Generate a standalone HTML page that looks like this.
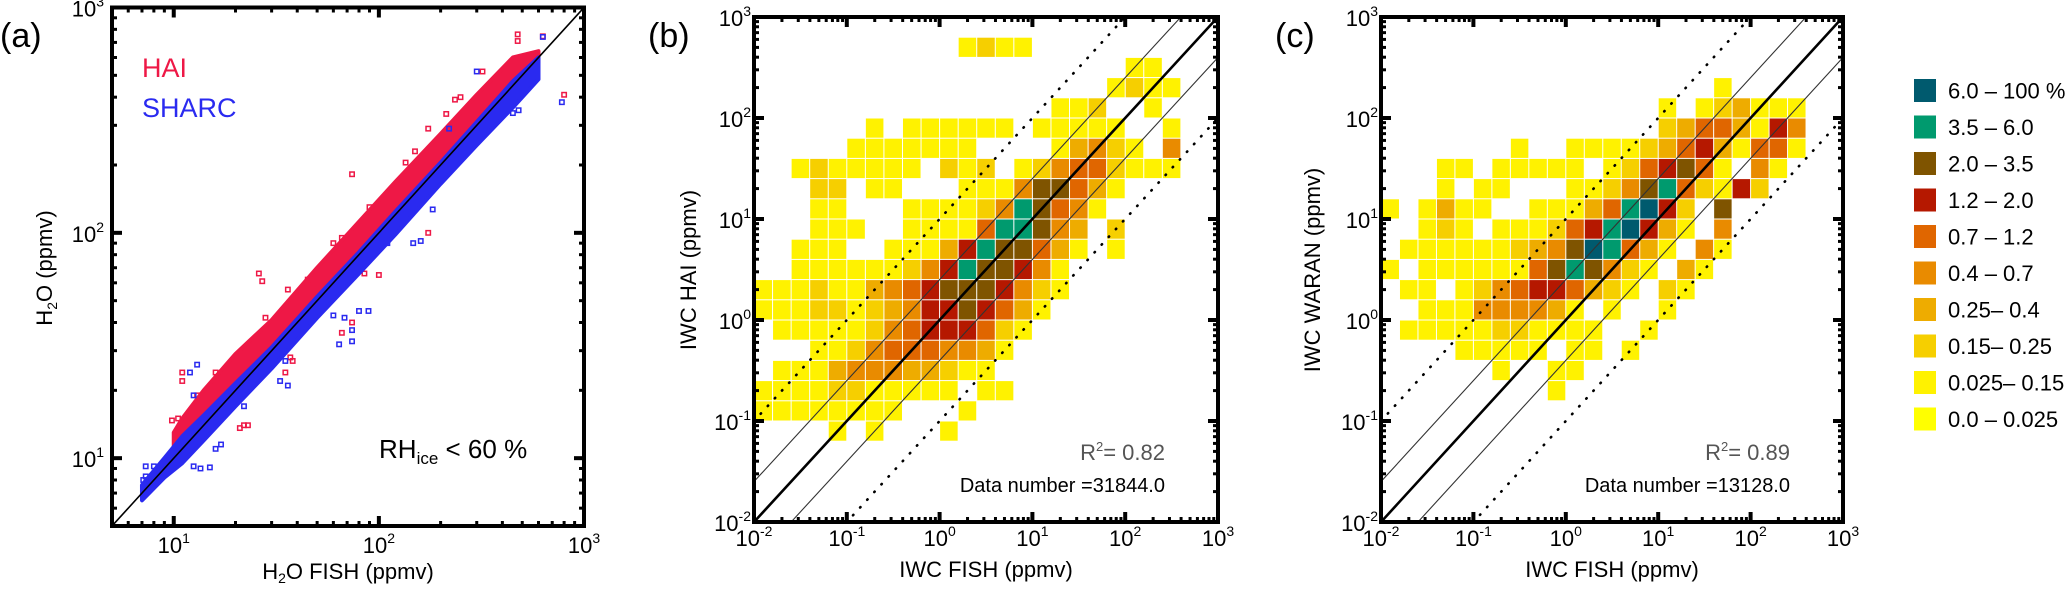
<!DOCTYPE html>
<html><head><meta charset="utf-8"><style>
html,body{margin:0;padding:0;background:#fff;overflow:hidden;width:2067px;height:590px;}
svg{display:block;font-family:"Liberation Sans",Arial,sans-serif;}
</style></head><body>
<svg id="fig" width="2067" height="590" viewBox="0 0 2067 590" xmlns="http://www.w3.org/2000/svg">
<defs>
<clipPath id="clipA"><rect x="112" y="7.5" width="472" height="518.5"/></clipPath>
<clipPath id="clipB"><rect x="754" y="17" width="464" height="505"/></clipPath>
<clipPath id="clipC"><rect x="1381" y="17" width="462" height="505"/></clipPath>
</defs>
<g id="layer"></g>
</svg>
<script>
// ---------- data ----------
const haiBandX  = [10, 11, 14, 20, 30, 50, 80, 120, 200, 300, 450, 600];
const haiBandHi = [13, 15, 20, 29, 41, 70, 112, 168, 275, 410, 600, 640];
const haiBandLo = [9.8, 10.5, 13, 19, 28, 47, 76, 114, 190, 285, 430, 570];
const sharcBandX  = [7, 9, 11, 14, 20, 30, 50, 80, 120, 200, 300, 450, 600];
const sharcBandHi = [7.6, 10, 12.5, 15.5, 21.5, 31, 52, 82, 124, 205, 310, 470, 600];
const sharcBandLo = [6.5, 8.2, 9.5, 12, 17, 25, 42, 66, 98, 165, 245, 360, 480];
const haiPtsX = [74, 26, 27, 36, 11, 11, 9.8, 10.5, 21, 23, 135, 213, 174, 235, 800, 630, 475, 475, 174, 100, 66, 85, 74, 66, 37, 38, 35, 18, 22, 150, 250, 320, 60, 45, 90, 16, 13, 28];
const haiPtsY = [182, 66, 61, 56, 24, 22, 14.7, 15, 13.6, 14, 205, 337, 290, 390, 410, 745, 760, 710, 100, 65, 95, 66, 40, 36, 28, 27, 24, 21, 14, 230, 400, 520, 90, 62, 130, 24, 19, 42];
const sharcPtsX = [183, 147, 160, 110, 89, 80, 60, 68, 74, 64, 74, 33, 36, 35, 13, 12, 12.5, 22, 15, 13.5, 12.5, 16, 17, 7.3, 8, 7.1, 7.3, 780, 630, 450, 480, 300, 220];
const sharcPtsY = [127, 90, 92, 90, 45, 45, 43, 42, 33, 32, 37, 22, 21, 27, 26, 24, 19, 17, 9.1, 9, 9.2, 11, 11.5, 9.2, 9.2, 8, 8.3, 380, 740, 340, 350, 520, 290];

const bRows = [
"0000000000000000000000000","0000000000023220000000000","0000000000000000000022000",
"0000000000000000000232200","0000000000000000223002000","0000002022222202222200200",
"0000022222220000245320500","0023222220323023566322200","0003302200022258864200000",
"0002200022223598652000000","0002220022226998540300000","0022200222479886420200000",
"0022222235798875200000000","2223224567888753200000000","2223323457787642000000000",
"0222223567776320000000000","0002235666554200000000000","0222455544322000000000000",
"2222332222202200000000000","2222222200020000000000000","0000202000200000000000000",
"0000000000000000000000000","0000000000000000000000000","0000000000000000000000000",
"0000000000000000000000000"];
const cRows = [
"0000000000000000000000000","0000000000000000000000000","0000000000000000000000000",
"0000000000000000002000000","0000000000000002023422200","0000000000000003466427500",
"0000000200222234674266200","0002202222202367862052000","0002022000223589632730000",
"20242200222469a7308000000","0023202223679a74205000000","02222223458a9642052000000",
"2022222268985320420000000","0220235677643203200000000","0022255554202002000000000",
"0222223322220020000000000","0000222220220200000000000","0000002002200000000000000",
"0000000002000000000000000","0000000000000000000000000","0000000000000000000000000",
"0000000000000000000000000","0000000000000000000000000","0000000000000000000000000",
"0000000000000000000000000"];
const levelColors = ["none","#ffff00","#fff200","#f6cf00","#eeac00","#e98b00","#e06600","#b51800","#7f5400","#009a6e","#005a6e"];
const legendLabels = ["0.0 \u2013 0.025","0.025\u2013 0.15","0.15\u2013 0.25","0.25\u2013 0.4","0.4 \u2013 0.7","0.7 \u2013 1.2","1.2 \u2013 2.0","2.0 \u2013 3.5","3.5 \u2013 6.0","6.0 \u2013 100 %"];
const bR2 = "0.82", bN = "31844.0", cR2 = "0.89", cN = "13128.0";

// ---------- helpers ----------
const NS = "http://www.w3.org/2000/svg";
const layer = document.getElementById("layer");
function mk(tag, attrs, parent) {
  const e = document.createElementNS(NS, tag);
  for (const k in attrs) e.setAttribute(k, attrs[k]);
  (parent || layer).appendChild(e);
  return e;
}
function axes(p) {
  return {
    sx: v => p.x0 + (Math.log10(v) - p.lx0) / (p.lx1 - p.lx0) * (p.x1 - p.x0),
    sy: v => p.y1 - (Math.log10(v) - p.ly0) / (p.ly1 - p.ly0) * (p.y1 - p.y0)
  };
}
function pow10Label(x, y, exp, anchor, parent, name) {
  const t = mk("text", {x: x, y: y, "font-size": 22, "text-anchor": anchor, fill: "#000"}, parent);
  
  
  const a = mk("tspan", {}, t); a.textContent = "10";
  const b = mk("tspan", {dy: -10, "font-size": 14}, t); b.textContent = exp;
  return t;
}
function frameAndTicks(p, A, name) {
  const g = mk("g", {});
  
  
  const lo = Math.floor(p.lx0), hi = Math.ceil(p.lx1);
  for (let d = lo; d <= hi; d++) {
    for (let m = 1; m <= 9; m++) {
      const v = m * Math.pow(10, d);
      const lv = Math.log10(v);
      if (lv < p.lx0 - 1e-6 || lv > p.lx1 + 1e-6) continue;
      const major = m === 1;
      const len = major ? 10 : 5, w = major ? 4 : 3;
      const X = A.sx(v);
      const t1 = mk("line", {x1: X, x2: X, y1: p.y1, y2: p.y1 - len, stroke: "#000", "stroke-width": w}, g);
      
      
      const t2 = mk("line", {x1: X, x2: X, y1: p.y0, y2: p.y0 + len, stroke: "#000", "stroke-width": w}, g);
      
      
    }
  }
  const lo2 = Math.floor(p.ly0), hi2 = Math.ceil(p.ly1);
  for (let d = lo2; d <= hi2; d++) {
    for (let m = 1; m <= 9; m++) {
      const v = m * Math.pow(10, d);
      const lv = Math.log10(v);
      if (lv < p.ly0 - 1e-6 || lv > p.ly1 + 1e-6) continue;
      const major = m === 1;
      const len = major ? 10 : 5, w = major ? 4 : 3;
      const Y = A.sy(v);
      const t1 = mk("line", {x1: p.x0, x2: p.x0 + len, y1: Y, y2: Y, stroke: "#000", "stroke-width": w}, g);
      
      
      const t2 = mk("line", {x1: p.x1, x2: p.x1 - len, y1: Y, y2: Y, stroke: "#000", "stroke-width": w}, g);
      
      
    }
  }
  const fr = mk("rect", {x: p.x0, y: p.y0, width: p.x1 - p.x0, height: p.y1 - p.y0, fill: "none", stroke: "#000", "stroke-width": 4}, g);
  
  
}
function txt(x, y, s, size, attrs, name) {
  const o = Object.assign({x: x, y: y, "font-size": size, fill: "#000"}, attrs || {});
  const t = mk("text", o);
  t.textContent = s;
  
  
  return t;
}

// ---------- panel (a) ----------
const pa = {x0: 112, x1: 584, y0: 7.5, y1: 526, lx0: Math.log10(5), lx1: 3, ly0: Math.log10(5), ly1: 3};
const Aa = axes(pa);
const ga = mk("g", {"clip-path": "url(#clipA)"});


function band(xs, his, los, color, parent, name) {
  let pts = [];
  for (let i = 0; i < xs.length; i++) pts.push(Aa.sx(xs[i]) + "," + Aa.sy(his[i]));
  for (let i = xs.length - 1; i >= 0; i--) pts.push(Aa.sx(xs[i]) + "," + Aa.sy(los[i]));
  const pg = mk("polygon", {points: pts.join(" "), fill: color, stroke: color, "stroke-width": 4, "stroke-linejoin": "round"}, parent);
  
  
}
function points(xs, ys, color, parent, name) {
  for (let i = 0; i < xs.length; i++) {
    const r = mk("rect", {x: Aa.sx(xs[i]) - 2.2, y: Aa.sy(ys[i]) - 2.2, width: 4.4, height: 4.4, fill: "none", stroke: color, "stroke-width": 1.5}, parent);
    
    
  }
}
band(haiBandX, haiBandHi, haiBandLo, "#ee1846", ga, "hai-band");
points(haiPtsX, haiPtsY, "#ee1846", ga, "hai-point");
band(sharcBandX, sharcBandHi, sharcBandLo, "#2a2af0", ga, "sharc-band");
points(sharcPtsX, sharcPtsY, "#2a2af0", ga, "sharc-point");
const da = mk("line", {x1: Aa.sx(5), y1: Aa.sy(5), x2: Aa.sx(1000), y2: Aa.sy(1000), stroke: "#000", "stroke-width": 1.6}, ga);


frameAndTicks(pa, Aa, "panel-a");
[1, 2, 3].forEach(e => pow10Label(Aa.sx(Math.pow(10, e)), 553, String(e), "middle", layer, "x-tick-label"));
[1, 2, 3].forEach(e => pow10Label(104, Aa.sy(Math.pow(10, e)) + 9, String(e), "end", layer, "y-tick-label"));
txt(142, 77, "HAI", 27, {fill: "#ee1846"}, "legend-hai");
txt(142, 117, "SHARC", 27, {fill: "#2a2af0"}, "legend-sharc");
(function(){
  const t = mk("text", {x: 379, y: 458, "font-size": 26, fill: "#000"});
  
  
  const a = mk("tspan", {}, t); a.textContent = "RH";
  const b = mk("tspan", {dy: 6, "font-size": 17}, t); b.textContent = "ice";
  const c = mk("tspan", {dy: -6}, t); c.textContent = " < 60 %";
})();
(function(){
  const t = mk("text", {x: 348, y: 579, "font-size": 22, "text-anchor": "middle", fill: "#000"});
  
  
  const a = mk("tspan", {}, t); a.textContent = "H";
  const b = mk("tspan", {dy: 4, "font-size": 14}, t); b.textContent = "2";
  const c = mk("tspan", {dy: -4}, t); c.textContent = "O FISH (ppmv)";
  const u = mk("text", {x: 0, y: 0, "font-size": 22, "text-anchor": "middle", fill: "#000", transform: "translate(52,268) rotate(-90)"});
  
  
  const d = mk("tspan", {}, u); d.textContent = "H";
  const e = mk("tspan", {dy: 5, "font-size": 14}, u); e.textContent = "2";
  const f = mk("tspan", {dy: -5}, u); f.textContent = "O (ppmv)";
})();
txt(0, 47, "(a)", 34, {}, "panel-label-a");

// ---------- panels (b), (c) ----------
function hist(p, rows, clip, name, ytitle, labelX, label, r2, n, ytitleX) {
  const A = axes(p);
  const g = mk("g", {"clip-path": clip});
  
  
  const binW = 0.2;
  for (let r = 0; r < rows.length; r++) {
    for (let c = 0; c < rows[r].length; c++) {
      const lv = parseInt(rows[r][c], 16);
      if (!lv) continue;
      const xa = Math.pow(10, p.lx0 + c * binW), xb = Math.pow(10, p.lx0 + (c + 1) * binW);
      const ya = Math.pow(10, p.ly1 - r * binW), yb = Math.pow(10, p.ly1 - (r + 1) * binW);
      const cell = mk("rect", {x: A.sx(xa) + 0.5, y: A.sy(ya) + 0.5, width: A.sx(xb) - A.sx(xa) - 1, height: A.sy(yb) - A.sy(ya) - 1, fill: levelColors[lv]}, g);
      
      
    }
  }
  function diag(off, w, color, dash, nm) {
    const l = mk("line", {x1: A.sx(1e-3), y1: A.sy(Math.pow(10, -3 + off)), x2: A.sx(1e4), y2: A.sy(Math.pow(10, 4 + off)), stroke: color, "stroke-width": w, "stroke-dasharray": dash || "none", "stroke-linecap": "round"}, g);
    
    
  }
  diag(0, 2.6, "#000", null, "one-to-one-line");
  diag(0.4, 1.1, "#333", null, "factor-2.5-upper-line");
  diag(-0.4, 1.1, "#333", null, "factor-2.5-lower-line");
  diag(1, 2.6, "#000", "0.5 10", "factor-10-upper-line");
  diag(-1, 2.6, "#000", "0.5 10", "factor-10-lower-line");
  frameAndTicks(p, A, name);
  for (let e = -2; e <= 3; e++) pow10Label(A.sx(Math.pow(10, e)), 546, String(e), "middle", layer, "x-tick-label");
  for (let e = -2; e <= 3; e++) pow10Label(p.x0 - 3, A.sy(Math.pow(10, e)) + 9, String(e), "end", layer, "y-tick-label");
  txt((p.x0 + p.x1) / 2, 577, "IWC FISH (ppmv)", 22, {"text-anchor": "middle"}, name + "-x-axis-title");
  txt(0, 0, ytitle, 22, {"text-anchor": "middle", transform: "translate(" + ytitleX + ",270) rotate(-90)"}, name + "-y-axis-title");
  txt(labelX, 47, label, 34, {}, name + "-label");
  const rt = mk("text", {x: p.x1 - 53, y: 460, "font-size": 22, "text-anchor": "end", fill: "#555"});
  
  
  const r1 = mk("tspan", {}, rt); r1.textContent = "R";
  const r2s = mk("tspan", {dy: -9, "font-size": 13}, rt); r2s.textContent = "2";
  const r3 = mk("tspan", {dy: 9}, rt); r3.textContent = "= " + r2;
  txt(p.x1 - 53, 492, "Data number =" + n, 20, {"text-anchor": "end"}, name + "-data-number");
}
const pb = {x0: 754, x1: 1218, y0: 17, y1: 522, lx0: -2, lx1: 3, ly0: -2, ly1: 3};
const pc = {x0: 1381, x1: 1843, y0: 17, y1: 522, lx0: -2, lx1: 3, ly0: -2, ly1: 3};
hist(pb, bRows, "url(#clipB)", "panel-b", "IWC HAI (ppmv)", 648, "(b)", bR2, bN, 696);
hist(pc, cRows, "url(#clipC)", "panel-c", "IWC WARAN (ppmv)", 1275, "(c)", cR2, cN, 1320);

// ---------- legend ----------
const lg = mk("g", {});


for (let i = 0; i < legendLabels.length; i++) {
  const idx = legendLabels.length - 1 - i;
  const cy = 90.5 + i * 36.5;
  const sw = mk("rect", {x: 1914, y: cy - 11.5, width: 22, height: 23, fill: levelColors[idx + 1]}, lg);
  
  
  const t = mk("text", {x: 1948, y: cy + 8, "font-size": 22, fill: "#000"}, lg);
  t.textContent = legendLabels[idx];
  
  
}
</script>
</body></html>
